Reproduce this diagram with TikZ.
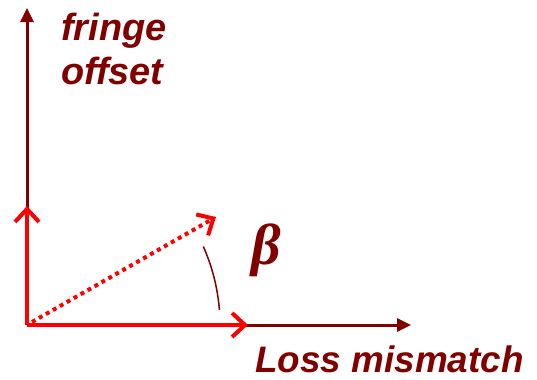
\documentclass[tikz,border=0pt]{standalone}
\usepackage{fontspec}
\setmainfont{Liberation Sans}
\newfontfamily\betafont{Liberation Serif}
\usetikzlibrary{positioning,arrows.meta}
\definecolor{axisred}{RGB}{128,0,0}
\definecolor{vecred}{RGB}{255,0,0}

\tikzset{
    axis/.style={draw=axisred, line width=3bp, -{Triangle[length=14bp,width=13bp]}},
    vec/.style={draw=vecred, line width=4bp, -{Straight Barb[length=13bp,width=24bp,line width=4bp]}},
    lbl/.style={text=axisred, font=\fontsize{38}{44}\selectfont\bfseries\itshape, inner sep=0pt}
}

\begin{document}
\begin{tikzpicture}[x=1bp, y=-1bp]
    \useasboundingbox (0,0) rectangle (537,379);

    \coordinate (o) at (27,325);
    \coordinate (ytop) at (27,8);
    \coordinate (xend) at (411,325);
    \coordinate (fy) at (27,206);
    \coordinate (lx) at (248,325);
    \coordinate (tilt) at (216,217);
    \coordinate (tail) at (32,322);

    % axes
    \draw[axis] (o) -- (ytop);
    \draw[axis] (o) -- (xend);

    \node[lbl, align=left, right=34bp of ytop, yshift=-5bp, anchor=north west] (fringe) {fringe\\offset};
    \node[lbl, font=\fontsize{37}{44}\selectfont\bfseries\itshape, anchor=base east] (loss) at (524,372) {Loss mismatch};

    % components and the sum vector
    \draw[vec] (o) -- (fy);
    \draw[vec] (o) -- (lx);
    \draw[vec, dash pattern=on 4bp off 4bp] (tail) -- (tilt);

    % angle
    \draw[axisred, line width=1.5bp] (o) ++(-24:193) arc (-24:-4.5:193);
    \node[text=axisred, font=\fontsize{58}{58}\selectfont\betafont\bfseries\itshape, inner sep=0pt] (beta) at (266,250) {β};
\end{tikzpicture}
\end{document}
